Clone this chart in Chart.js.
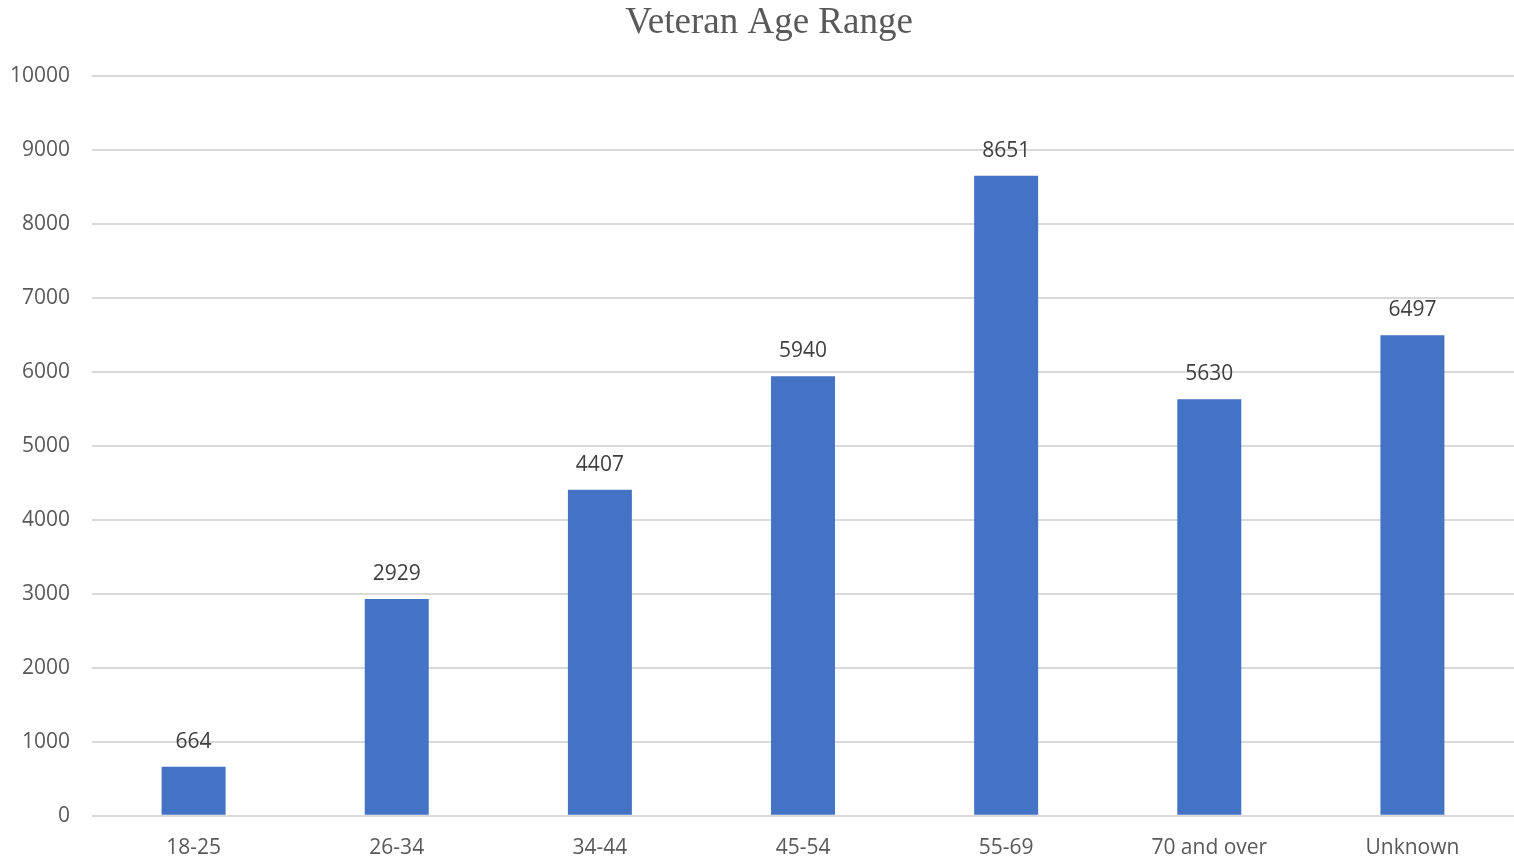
<!DOCTYPE html>
<html>
<head>
<meta charset="utf-8">
<title>Veteran Age Range</title>
<script src="https://cdn.jsdelivr.net/npm/chart.js@4.4.1/dist/chart.umd.min.js"></script>
<style>
  html, body { margin: 0; padding: 0; background: #fff; }
  #wrap { width: 1514px; height: 858px; position: relative; }
</style>
</head>
<body>
<div id="wrap"><canvas id="ageChart"></canvas></div>
<script>
// Faixas etárias e valores
const categorias = ['18-25', '26-34', '34-44', '45-54', '55-69', '70 and over', 'Unknown'];
const valores = [664, 2929, 4407, 5940, 8651, 5630, 6497];
const yTicks = [0, 1000, 2000, 3000, 4000, 5000, 6000, 7000, 8000, 9000, 10000];

const tituloTexto = 'Veteran Age Range';
const corTexto = '#595959';

// Rótulos de valor acima das barras
const rotulosPlugin = {
  id: 'rotulos',
  afterDatasetsDraw(chart) {
    const ctx = chart.ctx;
    const meta = chart.getDatasetMeta(0);
    ctx.save();
    ctx.font = '21px "Open Sans", sans-serif';
    ctx.fillStyle = '#404040';
    ctx.textAlign = 'center';
    ctx.textBaseline = 'middle';
    meta.data.forEach((bar, i) => {
      ctx.fillText(String(valores[i]), bar.x, bar.y - 25);
    });
    ctx.restore();
  }
};

// Título desenhado à mão para acertar a posição
const tituloPlugin = {
  id: 'tituloManual',
  afterDraw(chart) {
    const ctx = chart.ctx;
    ctx.save();
    ctx.font = '37px "Liberation Serif", "Times New Roman", serif';
    ctx.fillStyle = corTexto;
    ctx.textAlign = 'center';
    ctx.textBaseline = 'middle';
    ctx.fillText(tituloTexto, 769, 23);
    ctx.restore();
  }
};

new Chart(document.getElementById('ageChart'), {
  type: 'bar',
  data: {
    labels: categorias,
    datasets: [{
      data: valores,
      backgroundColor: '#4472C4',
      borderWidth: 0,
      barPercentage: 0.315,
      categoryPercentage: 1
    }]
  },
  options: {
    responsive: true,
    maintainAspectRatio: false,
    animation: false,
    layout: { padding: { top: 76, right: 0, bottom: -15, left: -12 } },
    plugins: {
      legend: { display: false },
      title: { display: false },
      tooltip: { enabled: false }
    },
    scales: {
      x: {
        grid: { display: false },
        border: { display: false },
        ticks: {
          color: corTexto,
          font: { family: '"Open Sans", sans-serif', size: 21 },
          padding: 12,
          maxRotation: 0
        }
      },
      y: {
        min: 0,
        max: 10000,
        afterBuildTicks(axis) {
          axis.ticks = yTicks.map(v => ({ value: v }));
        },
        grid: { color: '#d9d9d9', lineWidth: 2, drawTicks: false },
        border: { display: false },
        ticks: {
          color: corTexto,
          font: { family: '"Open Sans", sans-serif', size: 21 },
          padding: 22,
          callback: v => String(v)
        }
      }
    }
  },
  plugins: [rotulosPlugin, tituloPlugin]
});
</script>
</body>
</html>
